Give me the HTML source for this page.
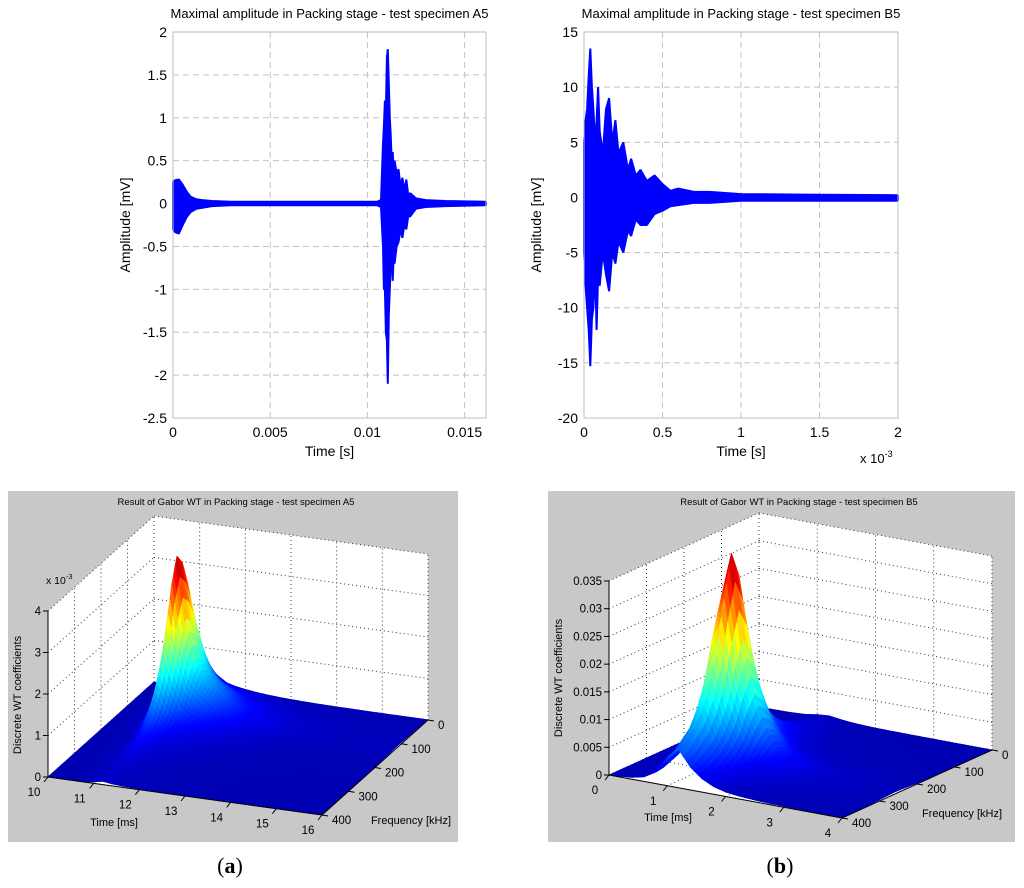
<!DOCTYPE html>
<html><head><meta charset="utf-8">
<style>
html,body{margin:0;padding:0;background:#fff;}
svg{display:block;font-family:"Liberation Sans",Arial,sans-serif;}
</style></head>
<body>
<svg id="fig" width="1024" height="888" viewBox="0 0 1024 888" xmlns="http://www.w3.org/2000/svg">
<rect x="0" y="0" width="1024" height="888" fill="#fff"/>
<g id="plotA"></g>
<g id="plotB"></g>
<g id="surfA"></g>
<g id="surfB"></g>
<text x="230" y="873" text-anchor="middle" font-family="Liberation Serif,serif" font-size="22">(<tspan font-weight="bold">a</tspan>)</text>
<text x="780" y="873" text-anchor="middle" font-family="Liberation Serif,serif" font-size="22">(<tspan font-weight="bold">b</tspan>)</text>
</svg>
<script>
// ---------- data: signal envelopes ----------
const timesA = [0,0.0001,0.0003,0.0005,0.0007,0.0009,0.0012,0.0015,0.002,0.003,0.005,0.008,0.0105,0.0107,0.0108,0.01085,0.0109,0.01095,0.0110,0.01105,0.0111,0.01115,0.0112,0.01125,0.0113,0.01135,0.0114,0.0115,0.0116,0.0117,0.0118,0.0119,0.012,0.0121,0.0122,0.0125,0.013,0.014,0.0161];
const upperA = [0.25,0.27,0.28,0.22,0.14,0.08,0.05,0.04,0.03,0.02,0.02,0.02,0.02,0.04,0.7,0.9,1.2,1.1,1.7,1.8,1.4,1.0,0.8,0.5,0.6,0.4,0.5,0.35,0.4,0.2,0.3,0.15,0.28,0.1,0.12,0.06,0.04,0.03,0.02];
const lowerA = [-0.3,-0.33,-0.35,-0.25,-0.16,-0.1,-0.06,-0.05,-0.03,-0.02,-0.02,-0.02,-0.02,-0.04,-0.5,-1.0,-1.0,-1.5,-1.6,-2.1,-1.3,-1.0,-0.7,-0.55,-0.9,-0.6,-0.7,-0.5,-0.45,-0.3,-0.4,-0.25,-0.3,-0.15,-0.15,-0.06,-0.04,-0.03,-0.02];
const timesB = [0,0.00001,0.00002,0.00003,0.00004,0.00005,0.00006,0.00007,0.00008,0.00009,0.0001,0.00012,0.00014,0.00016,0.00018,0.0002,0.00022,0.00025,0.00028,0.0003,0.00033,0.00036,0.0004,0.00045,0.0005,0.00055,0.0006,0.0007,0.0008,0.001,0.0015,0.002];
const upperB = [5,7,8,11,13.5,10,8,5,7,10,6,4,8,9,5,7,4,5,2.5,3.5,2,2.5,1.5,2,1.2,0.6,0.8,0.5,0.5,0.3,0.25,0.2];
const lowerB = [-5,-8,-10,-12,-15.3,-11,-10,-6,-12,-7,-8,-5,-7,-8.5,-5,-6,-4,-5,-3,-3.5,-2,-2.5,-2.5,-1.5,-1.2,-0.8,-0.7,-0.5,-0.5,-0.3,-0.3,-0.3];
const yTicksA = [2,1.5,1,0.5,0,-0.5,-1,-1.5,-2,-2.5];
const xTicksA = [0,0.005,0.01,0.015];
const xTickLabelsA = ["0","0.005","0.01","0.015"];
const yTicksB = [15,10,5,0,-5,-10,-15,-20];
const xTicksB = [0,0.0005,0.001,0.0015,0.002];
const xTickLabelsB = ["0","0.5","1","1.5","2"];
// ---------- data: Gabor WT surfaces ----------
const surfTimeA = [10,10.2,10.4,10.6,10.8,11,11.2,11.4,11.6,11.8,12,12.2,12.4,12.6,12.8,13,13.2,13.4,13.6,13.8,14,14.2,14.4,14.6,14.8,15,15.2,15.4,15.6,15.8,16];
const timeProfileA = [0,0,0.01,0.03,0.08,0.45,1.0,0.62,0.38,0.28,0.22,0.17,0.13,0.1,0.08,0.06,0.05,0.04,0.03,0.025,0.02,0.02,0.015,0.015,0.01,0.01,0.01,0.01,0.01,0.01,0.01];
const surfFreqA = [0,20,40,60,80,100,120,140,160,180,200,220,240,260,280,300,320,340,360,380,400];
const freqProfileA = [0.15,0.25,0.4,0.58,0.78,0.93,1.0,0.85,0.6,0.4,0.27,0.18,0.12,0.09,0.07,0.05,0.04,0.03,0.03,0.02,0.02];
const peakA = 0.0039;
const zTicksA = [0,0.001,0.002,0.003,0.004];
const zTickLabelsA = ["0","1","2","3","4"];
const tTicksA = [10,11,12,13,14,15,16];
const fTicks = [0,100,200,300,400];
const surfTimeB = [0,0.2,0.4,0.6,0.8,1.0,1.2,1.4,1.6,1.8,2.0,2.2,2.4,2.6,2.8,3.0,3.2,3.4,3.6,3.8,4.0];
const timeProfileB = [0,0.02,0.05,0.12,0.3,0.75,1.0,0.6,0.35,0.2,0.12,0.08,0.06,0.04,0.03,0.025,0.02,0.015,0.01,0.01,0.01];
const surfFreqB = [0,20,40,60,80,100,120,140,160,180,200,220,240,260,280,300,320,340,360,380,400];
const freqProfileB = [0.02,0.02,0.03,0.04,0.05,0.07,0.09,0.12,0.17,0.25,0.4,0.62,0.88,1.0,0.8,0.55,0.4,0.3,0.25,0.2,0.18];
const peakB = 0.038;
const zTicksB = [0,0.005,0.01,0.015,0.02,0.025,0.03,0.035];
const zTickLabelsB = ["0","0.005","0.01","0.015","0.02","0.025","0.03","0.035"];
const tTicksB = [0,1,2,3,4];

const NS = "http://www.w3.org/2000/svg";
function mk(parent, tag, attrs, txt){
  const e = document.createElementNS(NS, tag);
  for (const k in attrs) e.setAttribute(k, attrs[k]);
  if (txt !== undefined) e.textContent = txt;
  parent.appendChild(e);
  return e;
}

// ---------- 2D signal plots ----------
function signalPlot(g, cfg, times, up, lo, yTicks, xTicks, xLabels){
  const sx = v => cfg.x0 + (v - cfg.xmin) / (cfg.xmax - cfg.xmin) * (cfg.x1 - cfg.x0);
  const sy = v => cfg.y1 - (v - cfg.ymin) / (cfg.ymax - cfg.ymin) * (cfg.y1 - cfg.y0);
  const bg = mk(g, "rect", {x:cfg.x0, y:cfg.y0, width:cfg.x1-cfg.x0, height:cfg.y1-cfg.y0, fill:"#fff", stroke:"none"});
  
  
  xTicks.forEach((t,i) => {
    const x = sx(t);
    if (i > 0) {
      const l = mk(g, "line", {x1:x, x2:x, y1:cfg.y0, y2:cfg.y1, stroke:"#c4c4c4", "stroke-dasharray":"6,4"});
      
      
    }
    const tx = mk(g, "text", {x:x, y:cfg.y1+19, "text-anchor":"middle", "font-size":"14"}, xLabels[i]);
    
    
  });
  yTicks.forEach(t => {
    const y = sy(t);
    if (t !== cfg.ymin && t !== cfg.ymax) {
      const l = mk(g, "line", {x1:cfg.x0, x2:cfg.x1, y1:y, y2:y, stroke:"#c4c4c4", "stroke-dasharray":"6,4"});
      
      
    }
    const tx = mk(g, "text", {x:cfg.x0-6, y:y+5, "text-anchor":"end", "font-size":"14"}, String(t));
    
    
  });
  let d = "";
  times.forEach((t,i) => { d += (i ? "L" : "M") + sx(t).toFixed(1) + "," + sy(up[i]).toFixed(1); });
  for (let i = times.length - 1; i >= 0; i--) d += "L" + sx(times[i]).toFixed(1) + "," + sy(lo[i]).toFixed(1);
  d += "Z";
  const p = mk(g, "path", {d:d, fill:"#0000ff", stroke:"#0000ff", "stroke-width":"2", "stroke-linejoin":"bevel"});
  
  
  const box = mk(g, "rect", {x:cfg.x0, y:cfg.y0, width:cfg.x1-cfg.x0, height:cfg.y1-cfg.y0, fill:"none", stroke:"#bdbdbd"});
  
  
  const ti = mk(g, "text", {x:(cfg.x0+cfg.x1)/2, y:18, "text-anchor":"middle", "font-size":"13"}, cfg.title);
  
  
  const xl = mk(g, "text", {x:(cfg.x0+cfg.x1)/2, y:cfg.y1+38, "text-anchor":"middle", "font-size":"14"}, "Time [s]");
  
  
  const yl = mk(g, "text", {x:0, y:0, "text-anchor":"middle", "font-size":"14", transform:"translate("+(cfg.x0-43)+","+((cfg.y0+cfg.y1)/2)+") rotate(-90)"}, "Amplitude [mV]");
  
  
}
signalPlot(document.getElementById("plotA"),
  {x0:173,x1:486,y0:32,y1:418,xmin:0,xmax:0.0161,ymin:-2.5,ymax:2,title:"Maximal amplitude in Packing stage - test specimen A5"},
  timesA, upperA, lowerA, yTicksA, xTicksA, xTickLabelsA);
signalPlot(document.getElementById("plotB"),
  {x0:584,x1:898,y0:32,y1:418,xmin:0,xmax:0.002,ymin:-20,ymax:15,title:"Maximal amplitude in Packing stage - test specimen B5"},
  timesB, upperB, lowerB, yTicksB, xTicksB, xTickLabelsB);
(function(){
  const g = document.getElementById("plotB");
  const t = mk(g, "text", {x:860, y:463, "font-size":"13"});
  
  
  t.innerHTML = 'x 10<tspan dy="-6" font-size="9">-3</tspan>';
})();

// ---------- 3D surface plots ----------
function jet(x){
  x = Math.max(0, Math.min(1, x));
  const c = v => Math.round(255 * Math.max(0, Math.min(1, v)));
  return "rgb(" + c(1.5 - Math.abs(4*x - 3)) + "," + c(1.5 - Math.abs(4*x - 2)) + "," + c(1.5 - Math.abs(4*x - 1)) + ")";
}
function surfacePlot(g, cfg, times, tp, freqs, fp, peak, zTicks, zLabels, tTicks){
  const L = cfg.L, F = cfg.F, B = cfg.B;
  const zs = cfg.zpx / cfg.zmax;
  const P = (t, f, z) => {
    const u = (t - cfg.t0) / (cfg.t1 - cfg.t0), v = (400 - f) / 400;
    return [L[0] + u*(F[0]-L[0]) + v*(B[0]-L[0]), L[1] + u*(F[1]-L[1]) + v*(B[1]-L[1]) - z*zs];
  };
  const pt = p => p[0].toFixed(1) + "," + p[1].toFixed(1);
  const panel = mk(g, "rect", {x:cfg.px0, y:491, width:cfg.px1-cfg.px0, height:351, fill:"#c8c8c8"});
  
  
  const zt = cfg.zmax;
  const w1 = mk(g, "polygon", {points:[P(cfg.t0,400,0),P(cfg.t0,0,0),P(cfg.t0,0,zt),P(cfg.t0,400,zt)].map(pt).join(" "), fill:"#fff"});
  
  
  const w2 = mk(g, "polygon", {points:[P(cfg.t0,0,0),P(cfg.t1,0,0),P(cfg.t1,0,zt),P(cfg.t0,0,zt)].map(pt).join(" "), fill:"#fff"});
  
  
  const fl = mk(g, "polygon", {points:[P(cfg.t0,400,0),P(cfg.t1,400,0),P(cfg.t1,0,0),P(cfg.t0,0,0)].map(pt).join(" "), fill:"#fff"});
  
  
  const dot = {stroke:"#333", "stroke-width":"1", "stroke-dasharray":"1,3", fill:"none"};
  const gl = (a, b, nm) => { const l = mk(g, "line", Object.assign({x1:a[0],y1:a[1],x2:b[0],y2:b[1]}, dot));   };
  zTicks.forEach(z => { gl(P(cfg.t0,400,z), P(cfg.t0,0,z), 'z-gridline'); gl(P(cfg.t0,0,z), P(cfg.t1,0,z), 'z-gridline'); });
  tTicks.forEach(t => { gl(P(t,0,0), P(t,0,zt), 't-gridline'); gl(P(t,0,0), P(t,400,0), 't-gridline'); });
  fTicks.forEach(f => { gl(P(cfg.t0,f,0), P(cfg.t0,f,zt), 'f-gridline'); gl(P(cfg.t0,f,0), P(cfg.t1,f,0), 'f-gridline'); });
  gl(P(cfg.t1,0,0), P(cfg.t1,0,zt), 'box-edge');
  const S = 3;
  const sg = mk(g, "g", {});
  
  
  const Z = (i, j) => peak * tp[i] * fp[j];
  for (let j = 0; j < freqs.length - 1; j++) {
    for (let sj = 0; sj < S; sj++) {
      for (let i = 0; i < times.length - 1; i++) {
        for (let si = 0; si < S; si++) {
          const a0 = si / S, a1 = (si+1) / S, b0 = sj / S, b1 = (sj+1) / S;
          const bl = (a, b) => (1-a)*(1-b)*Z(i,j) + a*(1-b)*Z(i+1,j) + (1-a)*b*Z(i,j+1) + a*b*Z(i+1,j+1);
          const tt = a => times[i] + a*(times[i+1]-times[i]);
          const ff = b => freqs[j] + b*(freqs[j+1]-freqs[j]);
          const z00 = bl(a0,b0), z10 = bl(a1,b0), z01 = bl(a0,b1), z11 = bl(a1,b1);
          const zc = (z00+z10+z01+z11)/4;
          const col = jet(zc / peak * 0.95 + 0.05);
          const poly = [P(tt(a0),ff(b0),z00),P(tt(a1),ff(b0),z10),P(tt(a1),ff(b1),z11),P(tt(a0),ff(b1),z01)];
          const c = mk(sg, "polygon", {points:poly.map(pt).join(" "), fill:col, stroke:col, "stroke-width":"0.7", "stroke-linejoin":"round"});
          
          
        }
      }
    }
  }
  const ax = (a, b, nm) => { const l = mk(g, "line", {x1:a[0],y1:a[1],x2:b[0],y2:b[1], stroke:"#000", "stroke-width":"1"});   };
  ax(P(cfg.t0,400,0), P(cfg.t0,400,zt), 'z-axis-line');
  ax(P(cfg.t0,400,0), P(cfg.t1,400,0), 'time-axis-line');
  ax(P(cfg.t1,400,0), P(cfg.t1,0,0), 'frequency-axis-line');
  zTicks.forEach((z,i) => {
    const p = P(cfg.t0,400,z);
    ax(p, [p[0]-5, p[1]], 'z-tick');
    const t = mk(g, "text", {x:p[0]-7, y:p[1]+4, "text-anchor":"end", "font-size":"11.5"}, zLabels[i]);
    
    
  });
  tTicks.forEach(tv => {
    const p = P(tv,400,0);
    ax(p, [p[0]-4, p[1]+5], 'time-tick');
    const t = mk(g, "text", {x:p[0]-14, y:p[1]+19, "text-anchor":"middle", "font-size":"11.5"}, String(tv));
    
    
  });
  fTicks.forEach(fv => {
    const p = P(cfg.t1,fv,0);
    ax(p, [p[0]+6, p[1]+1], 'frequency-tick');
    const t = mk(g, "text", {x:p[0]+10, y:p[1]+9, "text-anchor":"start", "font-size":"11.5"}, String(fv));
    
    
  });
  const ti = mk(g, "text", {x:cfg.titleX, y:505, "text-anchor":"middle", "font-size":"9.5"}, cfg.title);
  
  
  const tl = mk(g, "text", {x:cfg.tlab[0], y:cfg.tlab[1], "text-anchor":"middle", "font-size":"11"}, "Time [ms]");
  
  
  const fl2 = mk(g, "text", {x:cfg.flab[0], y:cfg.flab[1], "text-anchor":"middle", "font-size":"11"}, "Frequency [kHz]");
  
  
  const zl = mk(g, "text", {x:0, y:0, "text-anchor":"middle", "font-size":"11", transform:"translate("+cfg.zlab[0]+","+cfg.zlab[1]+") rotate(-90)"}, "Discrete WT coefficients");
  
  
}
surfacePlot(document.getElementById("surfA"),
  {px0:8, px1:458, L:[48,777], F:[322,815], B:[154,682], t0:10, t1:16, zmax:0.004, zpx:166,
   title:"Result of Gabor WT in Packing stage - test specimen A5", titleX:236,
   tlab:[114,826], flab:[411,824], zlab:[21,695]},
  surfTimeA, timeProfileA, surfFreqA, freqProfileA, peakA, zTicksA, zTickLabelsA, tTicksA);
(function(){
  const g = document.getElementById("surfA");
  const t = mk(g, "text", {x:46, y:584, "font-size":"10.5"});
  
  
  t.innerHTML = 'x 10<tspan dy="-5" font-size="7.5">-3</tspan>';
})();
surfacePlot(document.getElementById("surfB"),
  {px0:548, px1:1015, L:[609,775], F:[842,818], B:[759,707], t0:0, t1:4, zmax:0.035, zpx:194,
   title:"Result of Gabor WT in Packing stage - test specimen B5", titleX:799,
   tlab:[668,821], flab:[962,817], zlab:[562,678]},
  surfTimeB, timeProfileB, surfFreqB, freqProfileB, peakB, zTicksB, zTickLabelsB, tTicksB);
</script>
</body></html>
